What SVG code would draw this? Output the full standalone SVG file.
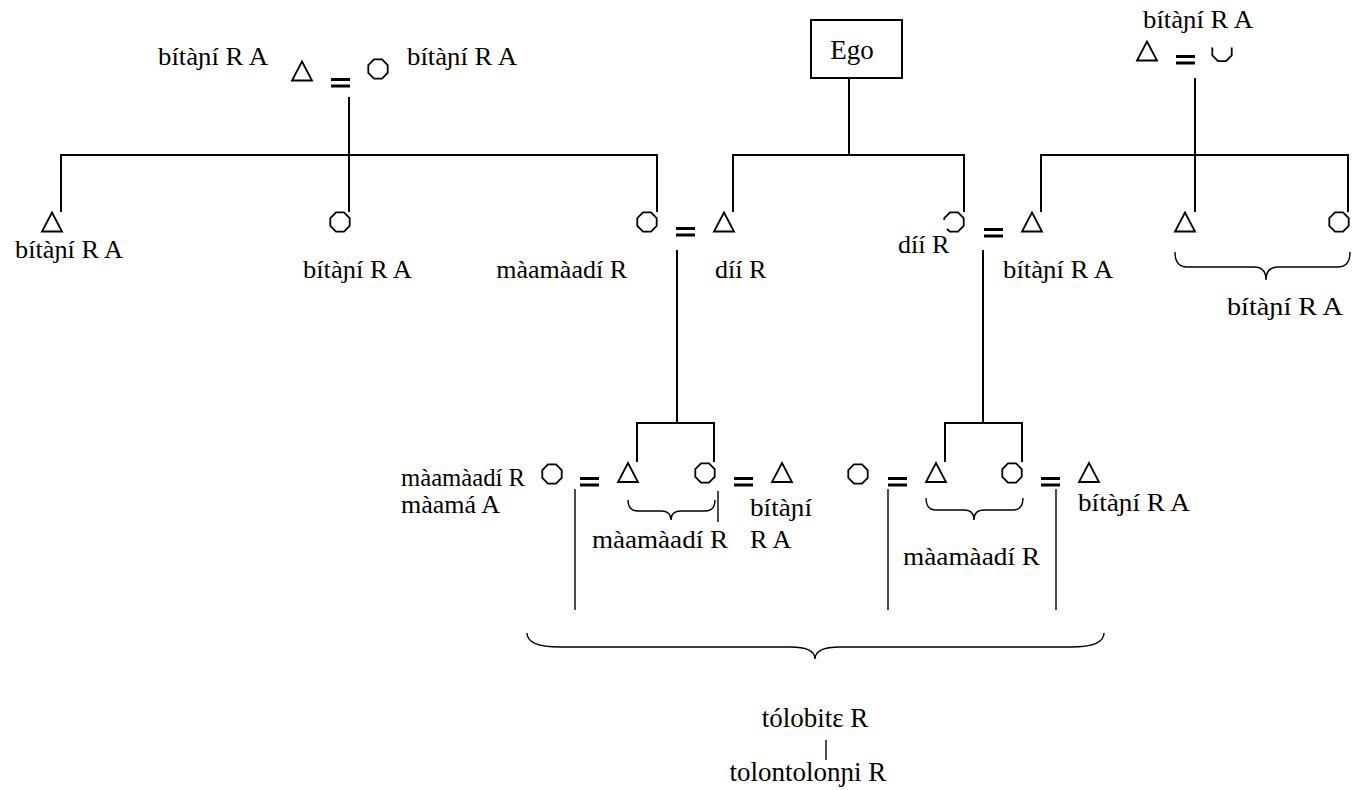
<svg xmlns="http://www.w3.org/2000/svg" xmlns:xlink="http://www.w3.org/1999/xlink" width="1353" height="790" viewBox="0 0 1353 790">
<style>
.ln{stroke:#000;stroke-width:2;fill:none}
.thin{stroke:#000;stroke-width:1.4;fill:none}
.sym{stroke:#000;stroke-width:1.8;fill:none}
.eqs{fill:#000}
.lbl{font-family:"Liberation Serif",serif;font-size:26px;fill:#000}
.big{font-family:"Liberation Serif",serif;font-size:27px;fill:#000}
</style>
<defs>
<path id="oct" d="M9.7,-4 L9.7,4 L4,9.7 L-4,9.7 L-9.7,4 L-9.7,-4 L-4,-9.7 L4,-9.7 Z"/>
<path id="tri" d="M0,-9.5 L10,9.5 L-10,9.5 Z"/>
<g id="eq"><rect x="0" y="0" width="19" height="3"/><rect x="0" y="6.5" width="19" height="3"/></g>
</defs>
<rect width="1353" height="790" fill="#fff"/>

<g id="connectors">
<path class="ln" d="M349,97 V212"/>
<path class="ln" d="M61,212 V155 H657 V212"/>
<path class="ln" d="M849,78 V155"/>
<path class="ln" d="M733,212 V155 H964 V212"/>
<path class="ln" d="M1195,78 V212"/>
<path class="ln" d="M1041,212 V155 H1348 V212"/>
<path class="ln" d="M677,250 V423"/>
<path class="ln" d="M637,462 V423 H714 V462"/>
<path class="ln" d="M983,250 V423"/>
<path class="ln" d="M945,462 V423 H1022 V462"/>
<path class="thin" d="M575,489 V610"/>
<path class="thin" d="M888,489 V610"/>
<path class="thin" d="M1056,489 V610"/>
<path class="thin" d="M718,491 V522"/>
<path class="thin" d="M826,740 V760"/>
<path class="thin" d="M1175,252 Q1175,267 1187,267 L1254,267 Q1266,267 1266,280 Q1266,267 1278,267 L1338,267 Q1350,267 1350,252"/>
<path class="thin" d="M628,500 Q628,511 638,511 L661,511 Q671,511 671,520 Q671,511 681,511 L705,511 Q715,511 715,500"/>
<path class="thin" d="M926,498 Q926,510 936,510 L964,510 Q974,510 974,520 Q974,510 984,510 L1013,510 Q1023,510 1023,498"/>
<path class="thin" d="M527,633 Q527,647 560,647 L790,647 Q815,647 815,659 Q815,647 840,647 L1071,647 Q1104,647 1104,633"/>
</g>

<g id="ego">
<rect class="ln" x="811" y="20" width="91" height="58"/>
<text class="big" x="852" y="59" text-anchor="middle">Ego</text>
</g>

<g id="tl-couple">
<text class="lbl" x="158" y="65" textLength="110" lengthAdjust="spacingAndGlyphs">bítàɲí R A</text>
<use href="#tri" class="sym" x="302" y="71"/>
<use href="#eq" class="eqs" x="331" y="78"/>
<use href="#oct" class="sym" x="378" y="69"/>
<text class="lbl" x="407" y="65" textLength="110" lengthAdjust="spacingAndGlyphs">bítàɲí R A</text>
</g>

<g id="tr-couple">
<text class="lbl" x="1143" y="28" textLength="110" lengthAdjust="spacingAndGlyphs">bítàɲí R A</text>
<use href="#tri" class="sym" x="1147" y="51"/>
<use href="#eq" class="eqs" x="1176" y="55"/>
<path class="sym" d="M1212.3,47.5 L1212.3,55.5 L1218,61.2 L1226,61.2 L1231.7,55.5 L1231.7,47.5"/>
</g>

<g id="p-a1">
<use href="#tri" class="sym" x="52" y="222"/>
<text class="lbl" x="15" y="258" textLength="108" lengthAdjust="spacingAndGlyphs">bítàɲí R A</text>
</g>
<g id="p-a2">
<use href="#oct" class="sym" x="340" y="222"/>
<text class="lbl" x="303" y="278" textLength="109" lengthAdjust="spacingAndGlyphs">bítàɲí R A</text>
</g>
<g id="p-a3">
<use href="#oct" class="sym" x="647" y="222"/>
<text class="lbl" x="627" y="278" text-anchor="end">màamàadí R</text>
</g>
<use href="#eq" class="eqs" x="676" y="227"/>
<g id="p-father">
<use href="#tri" class="sym" x="724" y="222"/>
<text class="lbl" x="715" y="278">díí R</text>
</g>
<g id="p-mother">
<path class="sym" d="M944.3,220 L944.3,218 L950,212.3 L958,212.3 L963.7,218 L963.7,226 L958,231.7 L950,231.7 L947,229"/>
<text class="lbl" x="898" y="253">díí R</text>
</g>
<use href="#eq" class="eqs" x="984" y="228"/>
<g id="p-b1">
<use href="#tri" class="sym" x="1032" y="222"/>
<text class="lbl" x="1003" y="278" textLength="110" lengthAdjust="spacingAndGlyphs">bítàɲí R A</text>
</g>
<g id="p-b2">
<use href="#tri" class="sym" x="1185" y="222"/>
</g>
<g id="p-b3">
<use href="#oct" class="sym" x="1339" y="222"/>
</g>
<text class="lbl" x="1227" y="315" textLength="116" lengthAdjust="spacingAndGlyphs">bítàɲí R A</text>

<g id="bl-group">
<use href="#oct" class="sym" x="552" y="474"/>
<text class="lbl" x="401" y="486" textLength="124" lengthAdjust="spacingAndGlyphs">màamàadí R</text>
<text class="lbl" x="401" y="513">màamá A</text>
<use href="#eq" class="eqs" x="580" y="477"/>
<use href="#tri" class="sym" x="628" y="472.5"/>
<use href="#oct" class="sym" x="705" y="473"/>
<use href="#eq" class="eqs" x="734" y="477"/>
<use href="#tri" class="sym" x="782" y="472.5"/>
<text class="lbl" x="592" y="548" textLength="136" lengthAdjust="spacingAndGlyphs">màamàadí R</text>
<text class="lbl" x="750" y="516" textLength="62" lengthAdjust="spacingAndGlyphs">bítàɲí</text>
<text class="lbl" x="750" y="548">R A</text>
</g>

<g id="br-group">
<use href="#oct" class="sym" x="858" y="474"/>
<use href="#eq" class="eqs" x="888" y="477"/>
<use href="#tri" class="sym" x="936" y="472.5"/>
<use href="#oct" class="sym" x="1012" y="473"/>
<use href="#eq" class="eqs" x="1041" y="477"/>
<use href="#tri" class="sym" x="1089" y="472.5"/>
<text class="lbl" x="1078" y="511" textLength="112" lengthAdjust="spacingAndGlyphs">bítàɲí R A</text>
<text class="lbl" x="903" y="565" textLength="137" lengthAdjust="spacingAndGlyphs">màamàadí R</text>
</g>

<g id="bottom">
<text class="big" x="815" y="727" text-anchor="middle">tólobitɛ R</text>
<text class="big" x="808" y="781" text-anchor="middle">tolontolonɲi R</text>
</g>
</svg>
